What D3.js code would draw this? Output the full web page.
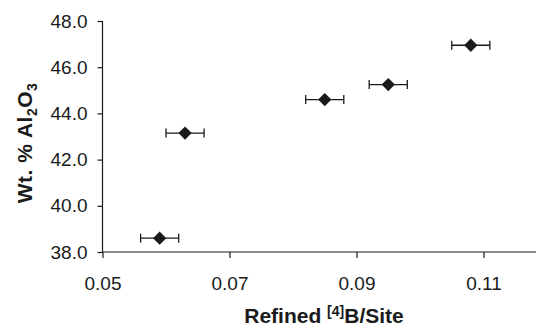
<!DOCTYPE html>
<html>
<head>
<meta charset="utf-8">
<script src="https://cdn.jsdelivr.net/npm/d3@7"></script>
<style>
  body { margin: 0; background: #fff; }
  svg { display: block; font-family: Arial, "Liberation Sans", sans-serif; }
</style>
</head>
<body>
<script>
// data
const boronSite = [0.059, 0.063, 0.085, 0.095, 0.108];
const alumina = [38.6, 43.15, 44.6, 45.25, 46.95];
const boronErr = [0.003, 0.003, 0.003, 0.003, 0.003];
const xTicks = [0.05, 0.07, 0.09, 0.11];
const yTicks = [38, 40, 42, 44, 46, 48];

let width = 536,
    height = 326;

let svg = d3.select('body')
  .append('svg')
  .attr('width', width)
  .attr('height', height);

let x = d3.scaleLinear().domain([0.05, 0.12]).range([102.5, 547]);
let y = d3.scaleLinear().domain([38, 48]).range([252, 21]);

let ink = '#1a1a1a';

//---------- axes ----------
let xAxis = svg.append('g')
  .attr('transform', `translate(0,${y(38)})`)
  .call(d3.axisBottom(x).tickValues(xTicks).tickSize(6).tickPadding(19)
    .tickFormat(d3.format('.2f')));

let yAxis = svg.append('g')
  .attr('transform', `translate(${x(0.05)},0)`)
  .call(d3.axisLeft(y).tickValues(yTicks).tickSize(5).tickPadding(10)
    .tickFormat(d3.format('.1f')));

[xAxis, yAxis].forEach(function (g) {
  g.select('.domain').attr('stroke', ink).attr('stroke-width', 1.2);
  g.selectAll('.tick line').attr('stroke', ink).attr('stroke-width', 1.2);
  g.selectAll('.tick text')
    .attr('fill', ink)
    .style('font-size', '19px')
    .style('font-family', 'Arial, "Liberation Sans", sans-serif');
});
// the outer tick stub of the default domain path
xAxis.select('.domain').attr('d', `M${x(0.05)},0H${width}`);
yAxis.select('.domain').attr('d', `M0,${y(48)}V${y(38)}`);

//---------- error bars ----------
let pts = boronSite.map((v, i) => ({ x: v, y: alumina[i], e: boronErr[i] }));

let bars = svg.append('g').attr('stroke', ink).attr('stroke-width', 1.3);
bars.selectAll('line.err')
  .data(pts).enter()
  .append('line')
  .attr('class', 'err')
  .attr('x1', d => x(d.x - d.e))
  .attr('x2', d => x(d.x + d.e))
  .attr('y1', d => y(d.y))
  .attr('y2', d => y(d.y));

[-1, 1].forEach(function (s) {
  bars.selectAll(null)
    .data(pts).enter()
    .append('line')
    .attr('x1', d => x(d.x + s * d.e))
    .attr('x2', d => x(d.x + s * d.e))
    .attr('y1', d => y(d.y) - 4.5)
    .attr('y2', d => y(d.y) + 4.5);
});

//---------- diamonds ----------
let diamond = d3.symbol().type(d3.symbolSquare).size(88);
svg.append('g').selectAll('path')
  .data(pts).enter()
  .append('path')
  .attr('d', diamond)
  .attr('fill', ink)
  .attr('transform', d => `translate(${x(d.x)},${y(d.y)}) rotate(45)`);

//---------- titles ----------
let xt = svg.append('text')
  .attr('x', 324)
  .attr('y', 323)
  .attr('text-anchor', 'middle')
  .attr('fill', ink)
  .style('font-size', '21px')
  .style('font-weight', 'bold');
xt.append('tspan').text('Refined ');
xt.append('tspan').attr('dy', -7).style('font-size', '14px').text('[4]');
xt.append('tspan').attr('dy', 7).text('B/Site');

let yt = svg.append('text')
  .attr('transform', 'translate(32,143) rotate(-90)')
  .attr('text-anchor', 'middle')
  .attr('fill', ink)
  .style('font-size', '21px')
  .style('font-weight', 'bold')
  .style('letter-spacing', '0.5px');
yt.append('tspan').text('Wt. % Al');
yt.append('tspan').attr('dy', 5).style('font-size', '14px').text('2');
yt.append('tspan').attr('dy', -5).text('O');
yt.append('tspan').attr('dy', 5).style('font-size', '14px').text('3');
</script>
</body>
</html>
